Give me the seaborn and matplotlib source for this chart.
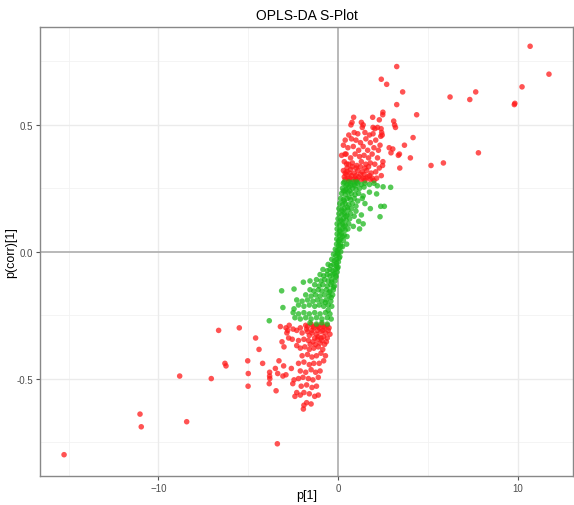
import matplotlib
matplotlib.use("Agg")
import matplotlib.pyplot as plt
from matplotlib.ticker import MultipleLocator, FormatStrFormatter
import pandas as pd
import seaborn as sns

# Loadings p[1] and correlations p(corr)[1] of variables with |p(corr)| above the cut
red_p = [
    10.70, 11.75, 10.25, 9.82, 9.85, 6.24, 7.34, 7.67, 7.82, 5.18, 5.87, 3.27, 2.71, 2.41, 3.60,
    3.27, 4.38, 4.18, 3.70, 3.36, 4.03, 3.44, 3.42, 2.41, 2.34,
    2.50, 2.49, 1.93, 2.30, 0.87, 0.78, 0.72, 1.30, 1.40, 1.35, 1.95, 2.05, 2.20, 2.40, 3.10,
    3.15, 3.20, 2.43, 2.38, 3.05, 2.85, 2.95, 2.46, 2.50, 2.48,
    0.90, 1.10, 0.60, 1.50, 1.75, 1.95,
    0.40, 0.75, 1.00, 1.25, 1.55, 1.80, 2.10,
    0.30, 0.55, 0.85, 1.15, 1.40, 1.65, 2.00, 2.25,
    0.20, 0.45, 0.70, 0.95, 1.20, 1.45, 1.70, 1.90, 2.20,
    0.35, 0.60, 0.80, 1.05, 1.30, 1.55, 1.80, 2.05, 2.30,
    0.30, 0.50, 0.70, 0.90, 1.10, 1.35, 1.60, 1.85, 2.10,
    0.35, 0.55, 0.75, 0.95, 1.15, 1.40, 1.65, 1.90, 2.15, 0.45, 1.25, 1.75,
    0.60, 1.00, 1.50, 2.00, 0.39, 0.48,
    0.40, 0.65, 0.85, 1.05, 1.30, 1.55, 1.80, 0.50, 0.80, 1.00, 1.25, 1.50, 1.70,
    0.40, 0.65, 1.00, 1.45,
    -15.26, -11.03, -10.96, -8.82, -8.43, -7.06, -6.65, -6.30, -6.24, -5.50, -5.03, -5.00,
    -5.01, -4.59, -4.40, -4.20, -3.81, -3.81, -3.80, -3.83, -3.38, -3.45, -3.49, -3.36,
    -3.29, -3.21, -3.12, -3.01, -3.03, -3.07, -2.90, -2.90, -2.80, -2.72, -2.85, -2.52,
    -2.40, -2.30,
    -1.80, -1.50, -1.20, -0.90, -0.60, -1.35, -1.05, -0.75, -0.50, -2.30, -2.50, -2.10,
    -2.00, -1.70, -1.45, -1.20, -0.95, -0.70, -0.45, -1.60, -1.10, -0.80,
    -2.20, -1.90, -1.65, -1.40, -1.15, -0.90, -0.65, -2.75, -2.55,
    -2.10, -1.85, -1.60, -1.35, -1.10, -0.85, -2.30,
    -2.00, -1.70, -1.45, -1.20, -0.95, -0.70,
    -2.20, -1.90, -1.60, -1.35, -1.05, -0.80,
    -2.10, -1.80, -1.50, -1.25, -1.00, -2.60,
    -2.20, -1.95, -1.65, -1.40, -1.10, -2.45,
    -2.05, -1.75, -1.45, -1.20,
    -2.10, -1.90, -1.60, -1.30, -1.10,
    -1.90, -1.75, -1.50, -1.93,
    -1.70, -1.40, -1.10, -0.80, -0.55, -0.85, -1.15, -1.45, -1.75, -0.60, -0.95, -1.30,
    -0.75, -1.00, -1.25, -1.55,
]
red_corr = [
    0.810, 0.700, 0.650, 0.580, 0.585, 0.610, 0.600, 0.630, 0.390, 0.340, 0.350, 0.730, 0.660, 0.680, 0.630,
    0.580, 0.540, 0.450, 0.420, 0.380, 0.370, 0.330, 0.385, 0.300, 0.420,
    0.550, 0.540, 0.530, 0.520, 0.530, 0.510, 0.500, 0.510, 0.500, 0.490, 0.490, 0.485, 0.490, 0.485, 0.515,
    0.500, 0.490, 0.470, 0.455, 0.405, 0.410, 0.390, 0.460, 0.355, 0.340,
    0.470, 0.465, 0.460, 0.470, 0.460, 0.465,
    0.440, 0.445, 0.440, 0.430, 0.445, 0.430, 0.440,
    0.420, 0.410, 0.415, 0.400, 0.415, 0.400, 0.410, 0.400,
    0.380, 0.385, 0.370, 0.385, 0.375, 0.380, 0.370, 0.385, 0.370,
    0.355, 0.345, 0.350, 0.340, 0.355, 0.345, 0.350, 0.345, 0.330,
    0.320, 0.315, 0.325, 0.310, 0.320, 0.315, 0.320, 0.310, 0.315,
    0.295, 0.290, 0.300, 0.290, 0.295, 0.290, 0.295, 0.290, 0.290, 0.305, 0.305, 0.300,
    0.280, 0.280, 0.280, 0.280, 0.385, 0.346,
    0.285, 0.290, 0.285, 0.285, 0.285, 0.290, 0.285, 0.330, 0.335, 0.330, 0.335, 0.330, 0.335,
    0.310, 0.310, 0.300, 0.305,
    -0.800, -0.640, -0.690, -0.490, -0.670, -0.500, -0.310, -0.440, -0.450, -0.300, -0.430, -0.480,
    -0.530, -0.340, -0.385, -0.440, -0.475, -0.490, -0.500, -0.520, -0.757, -0.548, -0.460, -0.480,
    -0.430, -0.295, -0.355, -0.375, -0.450, -0.490, -0.485, -0.300, -0.310, -0.290, -0.320, -0.520,
    -0.570, -0.555,
    -0.290, -0.285, -0.290, -0.285, -0.290, -0.300, -0.300, -0.300, -0.300, -0.310, -0.305, -0.300,
    -0.320, -0.315, -0.320, -0.325, -0.315, -0.320, -0.325, -0.330, -0.335, -0.335,
    -0.350, -0.345, -0.350, -0.355, -0.345, -0.350, -0.355, -0.340, -0.345,
    -0.380, -0.375, -0.385, -0.380, -0.375, -0.385, -0.370,
    -0.410, -0.405, -0.415, -0.410, -0.400, -0.410,
    -0.440, -0.435, -0.445, -0.440, -0.440, -0.430,
    -0.470, -0.475, -0.465, -0.475, -0.470, -0.460,
    -0.500, -0.495, -0.500, -0.505, -0.495, -0.505,
    -0.530, -0.525, -0.535, -0.530,
    -0.565, -0.555, -0.560, -0.570, -0.565,
    -0.605, -0.595, -0.600, -0.620,
    -0.295, -0.295, -0.295, -0.295, -0.310, -0.310, -0.310, -0.310, -0.305, -0.340, -0.340, -0.340,
    -0.365, -0.360, -0.365, -0.365,
]

# Variables inside the cut
green_p = [
    0.30, 0.50, 0.70, 0.90, 1.10, 1.30, 1.50, 1.75, 2.00,
    0.25, 0.45, 0.60, 0.80, 1.00, 1.20, 1.45, 2.19, 2.51, 2.93,
    0.20, 0.40, 0.55, 0.75, 0.95, 1.15, 1.40, 2.15, 1.75,
    0.15, 0.30, 0.50, 0.70, 0.90, 1.10, 1.35,
    0.10, 0.25, 0.40, 0.60, 0.80, 1.00, 1.50, 2.38, 2.58,
    0.05, 0.20, 0.35, 0.55, 0.75, 1.00, 1.80,
    0.05, 0.20, 0.35, 0.50, 0.70, 0.90, 2.34, 1.30,
    0.00, 0.15, 0.30, 0.45, 0.65, 1.15, 1.40,
    -0.05, 0.10, 0.25, 0.40, 0.60, 0.85,
    -0.05, 0.10, 0.25, 0.40, 0.55, 1.20,
    -0.05, 0.08, 0.20, 0.35, 0.50,
    -0.07, 0.05, 0.15, 0.30, 0.48,
    -0.08, 0.03, 0.15, 0.25,
    -0.15, -0.05, 0.05, 0.15,
    -0.25, -0.12, 0.00, 0.10,
    -0.35, -0.20, -0.08, 0.02,
    -0.55, -0.40, -0.25, -0.10, 0.00,
    -0.84, -0.60, -0.45, -0.30, -0.15, -0.05,
    -1.00, -0.80, -0.60, -0.45, -0.30, -0.12,
    -1.56, -1.20, -0.95, -0.75, -0.55, -0.35, -0.17,
    -1.93, -1.30, -1.05, -0.85, -0.60, -0.40, -0.20,
    -3.14, -2.45, -1.56, -1.35, -1.10, -0.90, -0.65, -0.45, -0.26,
    -1.80, -1.50, -1.25, -1.00, -0.75, -0.50, -0.30,
    -2.30, -2.00, -1.70, -1.40, -1.15, -0.90, -0.65, -0.40,
    -2.20, -1.90, -1.60, -1.30, -1.05, -0.80, -0.55, -0.35,
    -3.07, -2.45,
    -2.50, -2.20, -1.90, -1.60, -1.30, -1.00, -0.70, -0.45,
    -2.40, -2.10, -1.80, -1.50, -1.20, -0.90, -0.60, -0.38, -3.83,
    -1.56, -1.20, -0.90, -0.60,
    0.40, 0.62, 0.35, 0.52, 0.28, 0.45, 0.20, 0.33, 0.12, 0.24, 0.05, 0.15,
    -0.02, 0.06, -0.10, -0.03, -0.20, -0.12, -0.35, -0.25, -0.50, -0.38, -0.70, -0.55,
    0.35, 0.60, 0.85, 1.05, 0.45, 0.70, 0.95, 0.30, 0.65,
]
green_corr = [
    0.270, 0.265, 0.270, 0.265, 0.270, 0.265, 0.270, 0.265, 0.270,
    0.250, 0.245, 0.255, 0.250, 0.245, 0.250, 0.255, 0.260, 0.256, 0.254,
    0.230, 0.225, 0.235, 0.230, 0.225, 0.230, 0.220, 0.228, 0.235,
    0.210, 0.205, 0.210, 0.205, 0.210, 0.200, 0.210,
    0.190, 0.185, 0.190, 0.185, 0.190, 0.180, 0.190, 0.179, 0.179,
    0.170, 0.165, 0.170, 0.165, 0.170, 0.160, 0.170,
    0.150, 0.145, 0.150, 0.145, 0.150, 0.140, 0.138, 0.145,
    0.130, 0.125, 0.130, 0.125, 0.130, 0.120, 0.110,
    0.110, 0.105, 0.110, 0.105, 0.110, 0.100,
    0.090, 0.085, 0.090, 0.085, 0.090, 0.090,
    0.070, 0.065, 0.070, 0.065, 0.060,
    0.050, 0.045, 0.050, 0.045, 0.030,
    0.030, 0.025, 0.030, 0.020,
    0.010, 0.005, 0.010, 0.000,
    -0.010, -0.015, -0.010, -0.020,
    -0.030, -0.035, -0.030, -0.040,
    -0.050, -0.055, -0.050, -0.055, -0.060,
    -0.070, -0.075, -0.070, -0.075, -0.070, -0.080,
    -0.090, -0.095, -0.090, -0.095, -0.090, -0.095,
    -0.115, -0.110, -0.115, -0.110, -0.115, -0.110, -0.115,
    -0.120, -0.130, -0.135, -0.130, -0.135, -0.130, -0.135,
    -0.154, -0.147, -0.150, -0.155, -0.150, -0.155, -0.150, -0.155, -0.150,
    -0.170, -0.175, -0.170, -0.175, -0.170, -0.175, -0.170,
    -0.190, -0.195, -0.190, -0.195, -0.190, -0.195, -0.190, -0.195,
    -0.210, -0.215, -0.210, -0.215, -0.210, -0.215, -0.210, -0.215,
    -0.220, -0.225,
    -0.240, -0.245, -0.240, -0.245, -0.240, -0.245, -0.240, -0.245,
    -0.260, -0.265, -0.260, -0.265, -0.260, -0.265, -0.260, -0.265, -0.272,
    -0.280, -0.285, -0.280, -0.285,
    0.240, 0.215, 0.200, 0.175, 0.160, 0.140, 0.120, 0.100, 0.080, 0.060, 0.040, 0.020,
    -0.005, -0.025, -0.045, -0.065, -0.085, -0.100, -0.120, -0.140, -0.160, -0.180, -0.200, -0.230,
    0.275, 0.275, 0.275, 0.275, 0.260, 0.260, 0.260, 0.240, 0.240,
]

groups = ["high", "low"]
palette = {"high": "#FF1A1A", "low": "#1DB81D"}

df = pd.DataFrame({
    "p1": red_p + green_p,
    "pcorr": red_corr + green_corr,
    "group": [groups[0]] * len(red_p) + [groups[1]] * len(green_p),
})

sns.set_theme(style="white")
plt.rcParams["font.family"] = ["Liberation Sans", "DejaVu Sans"]

fig = plt.figure(figsize=(5.74, 5.06), dpi=100)
ax = fig.add_axes([0.0697, 0.0573, 0.9286, 0.8874])

# Grid: major and minor lines in the ggplot theme_bw manner
for v in [-15, -5, 5]:
    ax.axvline(v, color="#F2F2F2", lw=0.6, zorder=0)
for v in [-0.75, -0.25, 0.25, 0.75]:
    ax.axhline(v, color="#F2F2F2", lw=0.6, zorder=0)
for v in [-10, 10]:
    ax.axvline(v, color="#EBEBEB", lw=1.0, zorder=0)
for v in [-0.5, 0.5]:
    ax.axhline(v, color="#EBEBEB", lw=1.0, zorder=0)
ax.axvline(0, color="#B3B3B3", lw=1.3, zorder=1)
ax.axhline(0, color="#B3B3B3", lw=1.3, zorder=1)

sns.scatterplot(data=df, x="p1", y="pcorr", hue="group", palette=palette,
                s=16, alpha=0.75, linewidth=0, legend=False, ax=ax, zorder=3)

ax.set_xlim(-16.6, 13.09)
ax.set_ylim(-0.884, 0.886)
ax.xaxis.set_major_locator(MultipleLocator(10))
ax.yaxis.set_major_locator(MultipleLocator(0.5))
ax.yaxis.set_major_formatter(FormatStrFormatter("%.1f"))
ax.tick_params(axis="both", which="major", length=3, width=0.8, color="#555555",
               labelsize=7, labelcolor="#4D4D4D", pad=2, direction="out",
               bottom=True, left=True)

for s in ax.spines.values():
    s.set_color("#888888")
    s.set_linewidth(1.0)

ax.set_xlabel("p[1]", fontsize=9, color="black")
ax.set_ylabel("p(corr)[1]", fontsize=9, color="black")
ax.xaxis.set_label_coords(0.5, -0.028)
ax.yaxis.set_label_coords(-0.042, 0.5)
ax.set_title("OPLS-DA S-Plot", fontsize=10, color="black", pad=6)

fig.savefig("out.png", dpi=100)
